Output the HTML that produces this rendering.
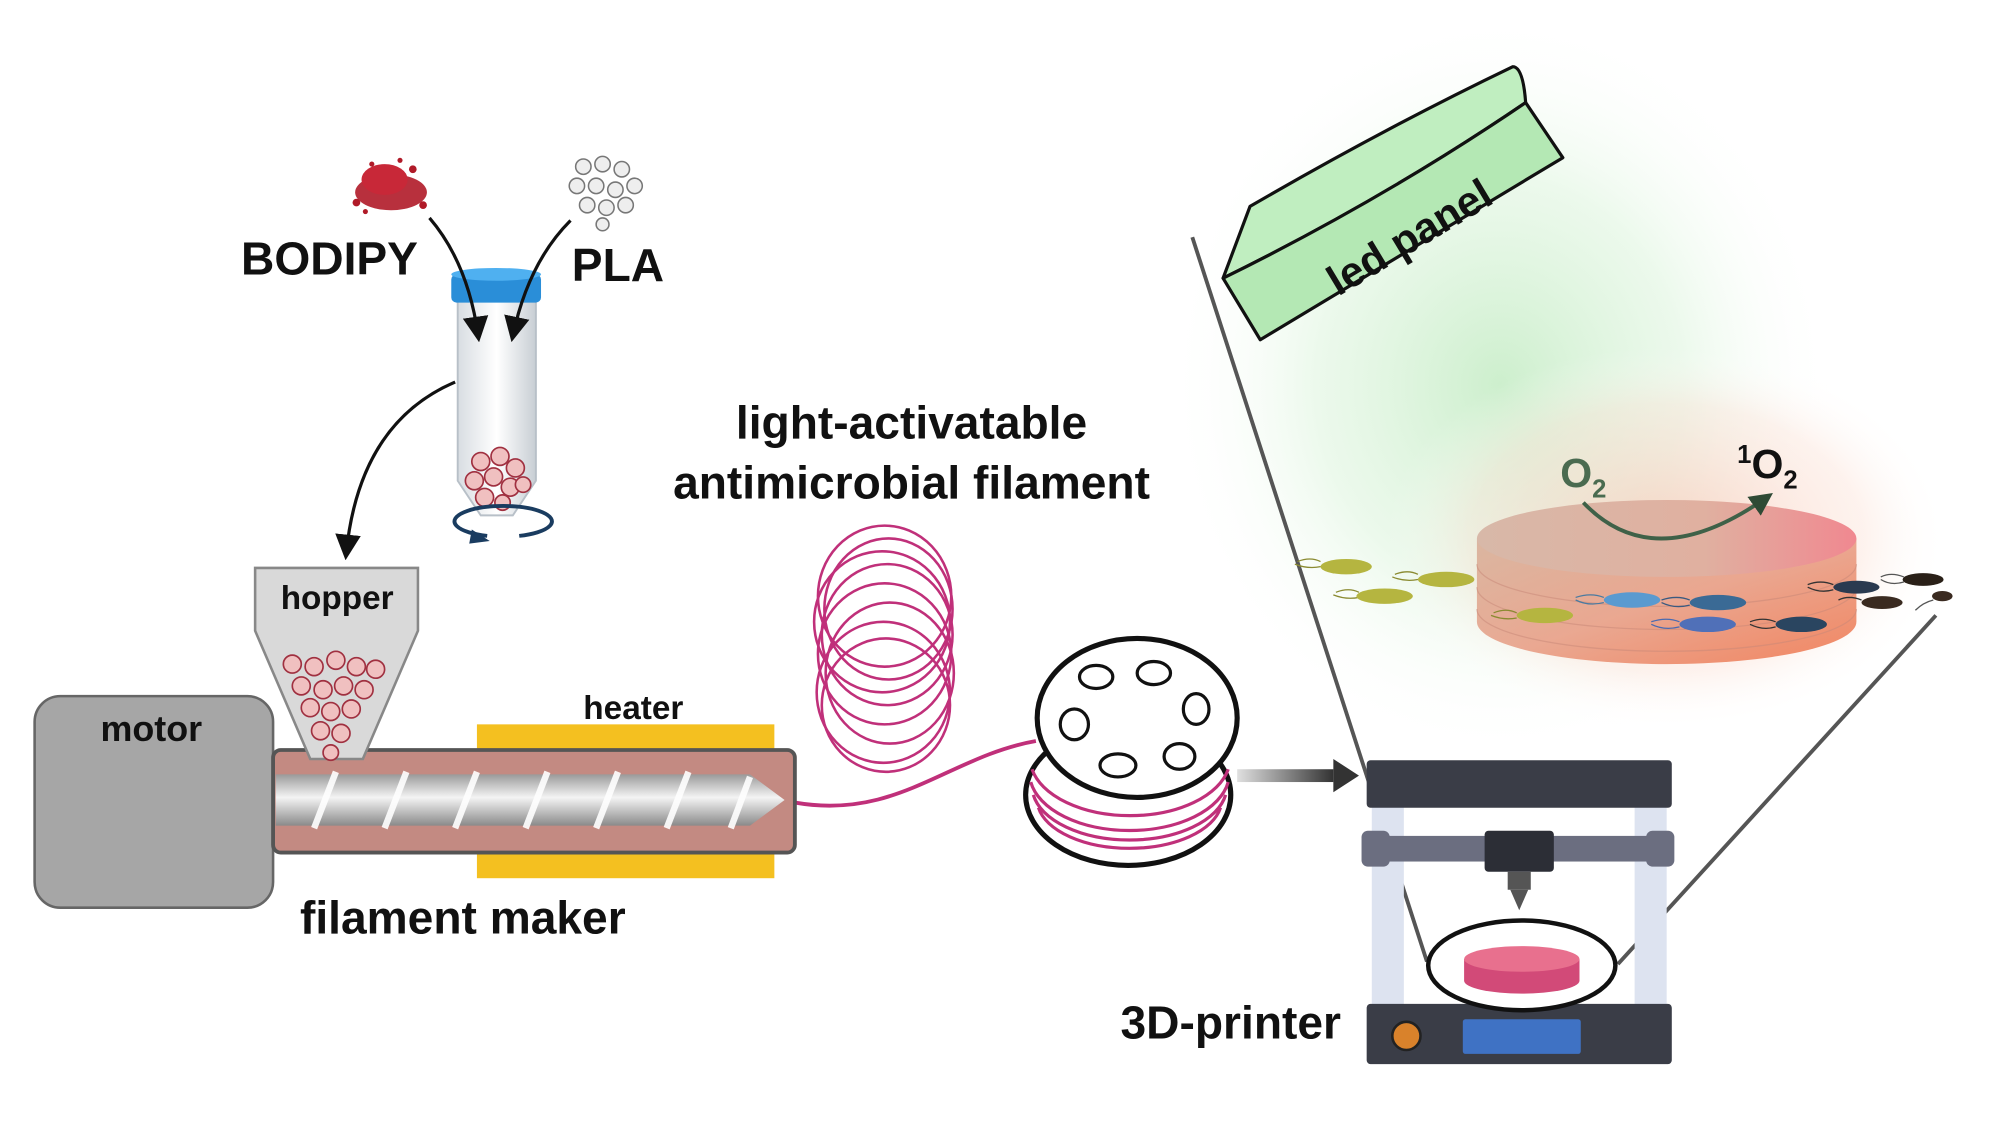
<!DOCTYPE html>
<html><head><meta charset="utf-8"><style>
html,body{margin:0;padding:0;background:#fff;}
svg{display:block;}
text{font-family:"Liberation Sans",sans-serif;font-weight:bold;fill:#111;}
</style></head><body>
<svg width="2000" height="1125" viewBox="0 0 1560 877.5" xmlns="http://www.w3.org/2000/svg">
<defs>
<radialGradient id="glow" cx="0.5" cy="0.5" r="0.5">
<stop offset="0" stop-color="#c4ecc4" stop-opacity="0.85"/>
<stop offset="0.55" stop-color="#dcf4dc" stop-opacity="0.55"/>
<stop offset="1" stop-color="#ffffff" stop-opacity="0"/>
</radialGradient>
<radialGradient id="orglow" cx="0.5" cy="0.5" r="0.5">
<stop offset="0" stop-color="#f8c4b0" stop-opacity="0.7"/>
<stop offset="0.7" stop-color="#fbe0d4" stop-opacity="0.4"/>
<stop offset="1" stop-color="#ffffff" stop-opacity="0"/>
</radialGradient>
<linearGradient id="disk" x1="0" y1="0" x2="1" y2="1">
<stop offset="0" stop-color="#d8b09a"/>
<stop offset="0.5" stop-color="#e8a088"/>
<stop offset="1" stop-color="#f07850"/>
</linearGradient>
<linearGradient id="disktop" x1="0" y1="0" x2="1" y2="0">
<stop offset="0" stop-color="#d8b8a8"/>
<stop offset="0.6" stop-color="#e0b0a0"/>
<stop offset="1" stop-color="#f08890"/>
</linearGradient>
<linearGradient id="screw" x1="0" y1="0" x2="0" y2="1">
<stop offset="0" stop-color="#9a9a9a"/>
<stop offset="0.45" stop-color="#f4f4f4"/>
<stop offset="1" stop-color="#8a8a8a"/>
</linearGradient>
<linearGradient id="arr" x1="0" y1="0" x2="1" y2="0">
<stop offset="0" stop-color="#e0e0e0"/>
<stop offset="1" stop-color="#333"/>
</linearGradient>
<linearGradient id="tube" x1="0" y1="0" x2="1" y2="0">
<stop offset="0" stop-color="#d8dde2"/>
<stop offset="0.5" stop-color="#ffffff"/>
<stop offset="1" stop-color="#c8ced4"/>
</linearGradient>
<marker id="ah" markerWidth="8" markerHeight="8" refX="6" refY="4" orient="auto" markerUnits="strokeWidth">
<path d="M0,0 L8,4 L0,8 z" fill="#111"/>
</marker>
<marker id="ahg" markerWidth="6" markerHeight="6" refX="4" refY="3" orient="auto" markerUnits="strokeWidth">
<path d="M0,0 L6,3 L0,6 z" fill="#2f4a35"/>
</marker>
</defs>

<!-- glows -->
<ellipse cx="1170" cy="300" rx="260" ry="290" fill="url(#glow)"/>
<ellipse cx="1300" cy="420" rx="220" ry="150" fill="url(#orglow)"/>

<!-- magnifier lines -->
<line x1="930" y1="185" x2="1113" y2="750" stroke="#555" stroke-width="3"/>
<line x1="1510" y1="480" x2="1262" y2="752" stroke="#555" stroke-width="3"/>

<!-- LED panel -->
<path d="M954,217 L975,161 Q1080,100 1180,52 Q1188,52 1190,80 Q1080,155 954,217 Z" fill="#c0eec0" stroke="#111" stroke-width="2.5" stroke-linejoin="round"/>
<path d="M954,217 Q1080,155 1190,80 L1219,123 Q1100,195 983,265 Z" fill="#b4e8b4" stroke="#111" stroke-width="2.5" stroke-linejoin="round"/>
<text x="1100" y="196" font-size="33" text-anchor="middle" transform="rotate(-31 1100 186)">led panel</text>

<!-- disk -->
<path d="M1152,420 L1152,485 A148,33 0 0 0 1448,485 L1448,420 Z" fill="url(#disk)" opacity="0.9"/>
<ellipse cx="1300" cy="420" rx="148" ry="30" fill="url(#disktop)"/>
<g stroke="#c88878" stroke-width="1" opacity="0.5" fill="none">
<path d="M1152,440 A148,33 0 0 0 1448,440"/>
<path d="M1152,458 A148,33 0 0 0 1448,458"/>
<path d="M1152,475 A148,33 0 0 0 1448,475"/>
</g>
<path d="M1235,392 Q1290,450 1378,388" fill="none" stroke="#3f6148" stroke-width="3" marker-end="url(#ahg)"/>
<text x="1217" y="380" font-size="32" style="fill:#4a6b50">O<tspan font-size="20" dy="8">2</tspan></text>
<text x="1355" y="373" font-size="32"><tspan font-size="20" dy="-12">1</tspan><tspan dy="12">O</tspan><tspan font-size="20" dy="8">2</tspan></text>

<!-- bacteria -->
<g stroke-width="1" fill="none">
<path d="M1030,438 q-8,-4 -18,0 M1030,442 q-10,2 -20,-2" stroke="#8a8a30"/>
<path d="M1060,462 q-8,-4 -18,0 M1060,466 q-10,2 -20,-2" stroke="#8a8a30"/>
<path d="M1106,448 q-8,-4 -18,0 M1106,452 q-10,2 -20,-2" stroke="#8a8a30"/>
<path d="M1183,478 q-8,-4 -18,0 M1183,482 q-10,2 -20,-2" stroke="#8a8a30"/>
<path d="M1251,466 q-10,-4 -22,0 M1251,470 q-12,3 -22,-2" stroke="#4a7aa0"/>
<path d="M1318,468 q-10,-4 -22,0 M1318,472 q-12,3 -22,-2" stroke="#3a5a80"/>
<path d="M1310,485 q-10,-4 -22,0 M1310,489 q-12,3 -22,-2" stroke="#4a6ab0"/>
<path d="M1385,485 q-10,-4 -20,0 M1385,489 q-10,3 -20,-2" stroke="#333"/>
<path d="M1430,456 q-10,-4 -20,0 M1430,460 q-10,3 -20,-2" stroke="#333"/>
<path d="M1452,468 q-10,-4 -18,0" stroke="#333"/>
<path d="M1485,450 q-10,-4 -18,0 M1485,454 q-10,3 -18,-2" stroke="#555"/>
<path d="M1508,468 q-8,2 -14,8" stroke="#555"/>
</g>
<g>
<ellipse cx="1050" cy="442" rx="20" ry="6" fill="#b5b540"/>
<ellipse cx="1080" cy="465" rx="22" ry="6" fill="#b5b540"/>
<ellipse cx="1128" cy="452" rx="22" ry="6" fill="#b5b540"/>
<ellipse cx="1205" cy="480" rx="22" ry="6" fill="#b5b540"/>
<ellipse cx="1273" cy="468" rx="22" ry="6" fill="#5a9ad0"/>
<ellipse cx="1340" cy="470" rx="22" ry="6" fill="#3a6a95"/>
<ellipse cx="1332" cy="487" rx="22" ry="6" fill="#5070b8"/>
<ellipse cx="1405" cy="487" rx="20" ry="6" fill="#2a4560"/>
<ellipse cx="1448" cy="458" rx="18" ry="5" fill="#2a3a50"/>
<ellipse cx="1468" cy="470" rx="16" ry="5" fill="#3a2a20"/>
<ellipse cx="1500" cy="452" rx="16" ry="5" fill="#2a2018"/>
<ellipse cx="1515" cy="465" rx="8" ry="4" fill="#3a2a20"/>
</g>

<!-- coil -->
<g fill="none" stroke="#c0307a" stroke-width="2">
<ellipse cx="690" cy="465" rx="52" ry="55"/>
<ellipse cx="693" cy="475" rx="50" ry="55"/>
<ellipse cx="688" cy="485" rx="53" ry="55"/>
<ellipse cx="692" cy="495" rx="51" ry="55"/>
<ellipse cx="690" cy="510" rx="52" ry="55"/>
<ellipse cx="694" cy="525" rx="50" ry="55"/>
<ellipse cx="689" cy="540" rx="52" ry="55"/>
<ellipse cx="691" cy="550" rx="50" ry="52"/>
</g>

<text x="711" y="342" font-size="36" text-anchor="middle">light-activatable</text>
<text x="711" y="389" font-size="36" text-anchor="middle">antimicrobial filament</text>

<!-- filament line -->
<path d="M620,626 C700,640 740,590 808,578" fill="none" stroke="#c0307a" stroke-width="3"/>

<!-- spool -->
<ellipse cx="880" cy="620" rx="80" ry="55" fill="#fff" stroke="#111" stroke-width="4"/>
<g fill="none" stroke="#c0307a" stroke-width="2.5">
<path d="M805,600 A78,45 0 0 0 958,600"/>
<path d="M804,610 A78,45 0 0 0 958,610"/>
<path d="M806,620 A76,42 0 0 0 956,620"/>
<path d="M810,630 A72,38 0 0 0 952,630"/>
</g>
<ellipse cx="887" cy="560" rx="78" ry="62" fill="#fff" stroke="#111" stroke-width="4"/>
<g fill="#fff" stroke="#111" stroke-width="2.5">
<ellipse cx="855" cy="528" rx="13" ry="9"/>
<ellipse cx="900" cy="525" rx="13" ry="9"/>
<ellipse cx="933" cy="553" rx="10" ry="12"/>
<ellipse cx="920" cy="590" rx="12" ry="10"/>
<ellipse cx="872" cy="597" rx="14" ry="9"/>
<ellipse cx="838" cy="565" rx="11" ry="12"/>
</g>

<!-- gray arrow -->
<rect x="965" y="600" width="75" height="10" fill="url(#arr)"/>
<polygon points="1040,592 1060,605 1040,618" fill="#333"/>

<!-- printer -->
<rect x="1070" y="628" width="25" height="157" fill="#dde3f0"/>
<rect x="1275" y="628" width="25" height="157" fill="#dde3f0"/>
<rect x="1066" y="593" width="238" height="37" rx="3" fill="#3a3d47"/>
<rect x="1075" y="652" width="220" height="20" fill="#6b6e80"/>
<rect x="1062" y="648" width="22" height="28" rx="5" fill="#6b6e80"/>
<rect x="1284" y="648" width="22" height="28" rx="5" fill="#6b6e80"/>
<rect x="1158" y="648" width="54" height="32" rx="3" fill="#2c2e36"/>
<rect x="1176" y="680" width="18" height="14" fill="#555"/>
<polygon points="1178,694 1192,694 1185,710" fill="#555"/>
<ellipse cx="1185" cy="770" rx="60" ry="12" fill="#dde3f0"/>
<rect x="1066" y="783" width="238" height="47" rx="3" fill="#3a3d47"/>
<circle cx="1097" cy="808" r="11" fill="#d9822b" stroke="#222" stroke-width="2"/>
<rect x="1141" y="795" width="92" height="27" rx="2" fill="#3f72c4"/>

<!-- magnifier ellipse with disk -->
<ellipse cx="1187" cy="753" rx="73" ry="35" fill="#fff" stroke="#111" stroke-width="3.5"/>
<path d="M1142,748 L1142,765 A45,10 0 0 0 1232,765 L1232,748 Z" fill="#d24a78"/>
<ellipse cx="1187" cy="748" rx="45" ry="10" fill="#e8708e"/>
<text x="960" y="810" font-size="36" text-anchor="middle">3D-printer</text>

<!-- powders -->
<g fill="#b01a28">
<ellipse cx="305" cy="150" rx="28" ry="14" opacity="0.9"/>
<ellipse cx="300" cy="140" rx="18" ry="12" fill="#c82838"/>
<circle cx="278" cy="158" r="3"/><circle cx="285" cy="165" r="2"/><circle cx="330" cy="160" r="3"/>
<circle cx="322" cy="132" r="3"/><circle cx="290" cy="128" r="2"/><circle cx="312" cy="125" r="2"/>
</g>
<g fill="#eee" stroke="#777" stroke-width="1.2">
<circle cx="455" cy="130" r="6"/><circle cx="470" cy="128" r="6"/><circle cx="485" cy="132" r="6"/>
<circle cx="450" cy="145" r="6"/><circle cx="465" cy="145" r="6"/><circle cx="480" cy="148" r="6"/><circle cx="495" cy="145" r="6"/>
<circle cx="458" cy="160" r="6"/><circle cx="473" cy="162" r="6"/><circle cx="488" cy="160" r="6"/><circle cx="470" cy="175" r="5"/>
</g>
<text x="257" y="214" font-size="36" text-anchor="middle">BODIPY</text>
<text x="482" y="219" font-size="36" text-anchor="middle">PLA</text>

<!-- tube -->
<path d="M357,232 L418,232 L418,375 L400,402 L375,402 L357,375 Z" fill="url(#tube)" stroke="#b8c0c8" stroke-width="1.5"/>
<rect x="352" y="214" width="70" height="22" rx="4" fill="#2a8ed8"/>
<ellipse cx="387" cy="214" rx="35" ry="5" fill="#4fb0f0"/>
<g fill="#f0c0c0" stroke="#a03040" stroke-width="1.3">
<circle cx="375" cy="360" r="7"/><circle cx="390" cy="356" r="7"/><circle cx="402" cy="365" r="7"/>
<circle cx="370" cy="375" r="7"/><circle cx="385" cy="372" r="7"/><circle cx="398" cy="380" r="7"/>
<circle cx="378" cy="388" r="7"/><circle cx="392" cy="392" r="6"/><circle cx="408" cy="378" r="6"/>
</g>
<path d="M380,418 A38,12 0 1 1 405,418" fill="none" stroke="#1a3c60" stroke-width="3"/>
<polygon points="368,413 382,422 366,424" fill="#1a3c60"/>
<path d="M335,170 Q365,205 373,262" fill="none" stroke="#111" stroke-width="2.5" marker-end="url(#ah)"/>
<path d="M445,172 Q412,205 400,262" fill="none" stroke="#111" stroke-width="2.5" marker-end="url(#ah)"/>
<path d="M355,298 Q280,330 270,432" fill="none" stroke="#111" stroke-width="2.5" marker-end="url(#ah)"/>

<!-- motor -->
<rect x="27" y="543" width="186" height="165" rx="20" fill="#a6a6a6" stroke="#666" stroke-width="2"/>
<text x="118" y="578" font-size="28" text-anchor="middle">motor</text>

<!-- heater -->
<rect x="372" y="565" width="232" height="20" fill="#f4c020"/>
<rect x="372" y="665" width="232" height="20" fill="#f4c020"/>
<text x="494" y="561" font-size="26" text-anchor="middle">heater</text>

<!-- barrel -->
<rect x="213" y="585" width="407" height="80" rx="6" fill="#c38a82" stroke="#555" stroke-width="3"/>
<rect x="215" y="604" width="370" height="40" fill="url(#screw)"/>
<polygon points="585,604 612,624 585,644" fill="url(#screw)"/>
<g stroke="#fff" stroke-width="5" opacity="0.9">
<line x1="245" y1="646" x2="262" y2="602"/><line x1="300" y1="646" x2="317" y2="602"/>
<line x1="355" y1="646" x2="372" y2="602"/><line x1="410" y1="646" x2="427" y2="602"/>
<line x1="465" y1="646" x2="482" y2="602"/><line x1="520" y1="646" x2="537" y2="602"/>
<line x1="570" y1="646" x2="585" y2="606"/>
</g>

<!-- hopper -->
<path d="M199,443 L326,443 L326,492 L283,592 L242,592 L199,492 Z" fill="#d9d9d9" stroke="#888" stroke-width="2"/>
<text x="263" y="475" font-size="26" text-anchor="middle">hopper</text>
<g fill="#f0c0c0" stroke="#a03040" stroke-width="1.3">
<circle cx="228" cy="518" r="7"/><circle cx="245" cy="520" r="7"/><circle cx="262" cy="515" r="7"/><circle cx="278" cy="520" r="7"/><circle cx="293" cy="522" r="7"/>
<circle cx="235" cy="535" r="7"/><circle cx="252" cy="538" r="7"/><circle cx="268" cy="535" r="7"/><circle cx="284" cy="538" r="7"/>
<circle cx="242" cy="552" r="7"/><circle cx="258" cy="555" r="7"/><circle cx="274" cy="553" r="7"/>
<circle cx="250" cy="570" r="7"/><circle cx="266" cy="572" r="7"/><circle cx="258" cy="587" r="6"/>
</g>
<text x="361" y="728" font-size="36" text-anchor="middle">filament maker</text>
</svg>
</body></html>
